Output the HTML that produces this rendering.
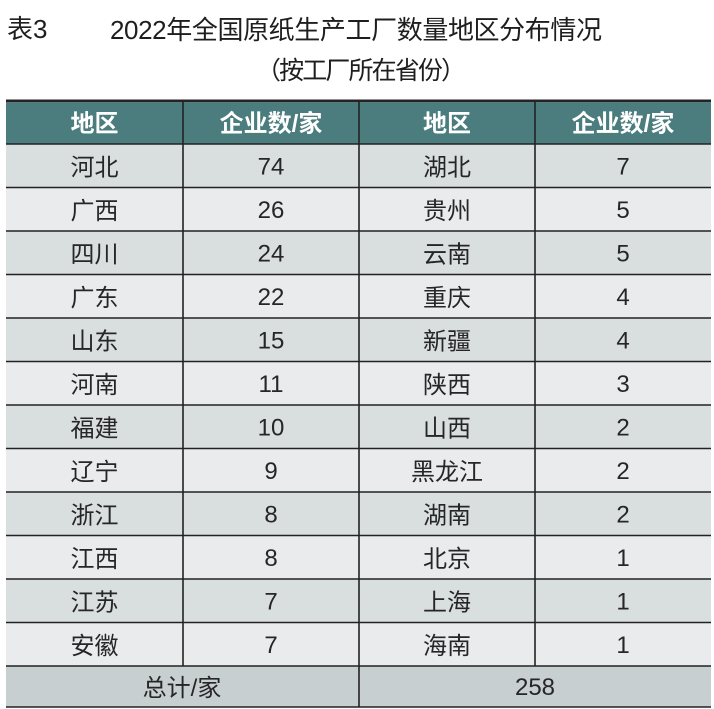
<!DOCTYPE html>
<html><head><meta charset="utf-8"><style>
html,body{margin:0;padding:0;background:#fff;}
svg{display:block;}
.cjk{font-family:"Liberation Sans","Noto Sans CJK SC",sans-serif;}
</style></head><body>
<svg width="714" height="709" viewBox="0 0 714 709" xmlns="http://www.w3.org/2000/svg">
<rect width="714" height="709" fill="#fff"/>
<g class="cjk" fill="#1e1e1e">
<text x="7" y="38" font-size="26">表3</text>
<text x="110" y="39" font-size="26" textLength="492" lengthAdjust="spacing">2022年全国原纸生产工厂数量地区分布情况</text>
<text x="256" y="79" font-size="25" textLength="210" lengthAdjust="spacing">（按工厂所在省份）</text>
</g>
<!-- header -->
<rect x="6" y="99.5" width="705" height="2.8" fill="#232323"/>
<rect x="6" y="102.3" width="705" height="41.7" fill="#4b7d7e"/>
<!-- rows -->
<g id="rows"></g>
<script>
(function(){
var L=[["河北","74"],["广西","26"],["四川","24"],["广东","22"],["山东","15"],["河南","11"],["福建","10"],["辽宁","9"],["浙江","8"],["江西","8"],["江苏","7"],["安徽","7"]];
var R=[["湖北","7"],["贵州","5"],["云南","5"],["重庆","4"],["新疆","4"],["陕西","3"],["山西","2"],["黑龙江","2"],["湖南","2"],["北京","1"],["上海","1"],["海南","1"]];
var ns="http://www.w3.org/2000/svg";var g=document.getElementById("rows");
function el(t,a,txt){var e=document.createElementNS(ns,t);for(var k in a)e.setAttribute(k,a[k]);if(txt!==undefined)e.textContent=txt;g.appendChild(e);return e;}
for(var i=0;i<12;i++){
 var top=144+43.5*i,c=top+21.75;
 el("rect",{x:6,y:top,width:705,height:43.5,fill:(i%2==0)?"#d9dedf":"#e9ebec"});
 var f='"Liberation Sans","Noto Sans CJK SC",sans-serif';
 el("text",{x:94.5,y:c+9.5,"font-size":24,"text-anchor":"middle",fill:"#262626","font-family":f},L[i][0]);
 el("text",{x:271,y:c+8.8,"font-size":24,"text-anchor":"middle",fill:"#262626","font-family":f},L[i][1]);
 el("text",{x:447,y:c+9.5,"font-size":24,"text-anchor":"middle",fill:"#262626","font-family":f},R[i][0]);
 el("text",{x:623,y:c+8.8,"font-size":24,"text-anchor":"middle",fill:"#262626","font-family":f},R[i][1]);
}
})();
</script>
<!-- total row -->
<rect x="6" y="666" width="705" height="41" fill="#c8cfd0"/>
<g class="cjk" font-size="24" fill="#262626" text-anchor="middle">
<text x="182" y="696">总计/家</text>
<text x="535" y="695">258</text>
</g>
<!-- header text -->
<g class="cjk" font-size="24" font-weight="bold" fill="#ffffff" text-anchor="middle">
<text x="94.5" y="131.5">地区</text>
<text x="271" y="131.5">企业数/家</text>
<text x="447" y="131.5">地区</text>
<text x="623" y="131.5">企业数/家</text>
</g>
<!-- grid lines -->
<g stroke="#222" stroke-width="1.6">
<line x1="6" y1="144" x2="711" y2="144"/>
<line x1="6" y1="187.5" x2="711" y2="187.5"/>
<line x1="6" y1="231" x2="711" y2="231"/>
<line x1="6" y1="274.5" x2="711" y2="274.5"/>
<line x1="6" y1="318" x2="711" y2="318"/>
<line x1="6" y1="361.5" x2="711" y2="361.5"/>
<line x1="6" y1="405" x2="711" y2="405"/>
<line x1="6" y1="448.5" x2="711" y2="448.5"/>
<line x1="6" y1="492" x2="711" y2="492"/>
<line x1="6" y1="535.5" x2="711" y2="535.5"/>
<line x1="6" y1="579" x2="711" y2="579"/>
<line x1="6" y1="622.5" x2="711" y2="622.5"/>
<line x1="6" y1="666" x2="711" y2="666"/>
<line x1="6" y1="707" x2="711" y2="707"/>
<line x1="183" y1="102" x2="183" y2="666"/>
<line x1="359" y1="102" x2="359" y2="707"/>
<line x1="535" y1="102" x2="535" y2="666"/>
</g>
</svg>
</body></html>
